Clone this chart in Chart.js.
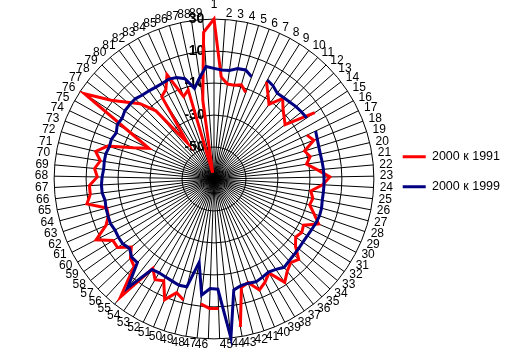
<!DOCTYPE html>
<html>
<head>
<meta charset="utf-8">
<title>2000 к 1991 / 2000 к 1999</title>
<script src="https://cdn.jsdelivr.net/npm/chart.js@4.4.0/dist/chart.umd.min.js"></script>
<style>
    html, body { margin: 0; padding: 0; background: #fff; }
    #wrap { width: 511px; height: 360px; }
</style>
</head>
<body>
<div id="wrap"><canvas id="radar" width="511" height="360"></canvas></div>
<script>
/* ----------------------------------------------------------
   DATA
   89 categories around the circle, two series read off the
   picture. null = no value (line is broken there).
---------------------------------------------------------- */

const CATEGORIES = Array.from({ length: 89 }, (_, i) => String(i + 1));

const SERIES_NAMES = ['2000 к 1991', '2000 к 1999'];

// 2000 к 1991 (red)
const VALUES_1991 = [
    30, -6, -10, -10, -8.7, -12.4, null, -0.8, -7, -12,
    -3.8, -8.4, -11.5, -14, 5.5, null, -5.7, -3, -10.7, -8.2,
    -11.4, -5, 2.5, -2, -9, -7, -8, -3.7, 1.2, -7,
    -5.7, -7.3, -4, 3, 1, 3.7, 8.3, -1.9, 2, 5,
    -1.8, 0, 24, null, 11, 11, 8.5, null, 8, 4.8,
    11.5, 1, 3, -2.3, 24, 4, 2, -3, 4, 4,
    13, 3.5, 0, -0.5, 11, 8, 8, 3, 5, 2,
    6, -0.3, -16, -25, -8.4, 27, 11, 2.5, -4, -14,
    -42, -9, -6.5, 1.5, -15, -12, -66, -20, 22
];

// 2000 к 1999 (navy)
const VALUES_1999 = [
    -0.8, -1.7, -1.5, 0.6, 1, -1.9, null, 0.3, -1, -3.3,
    -3, -2.5, -1.6, -1, -0.6, null, 0.3, -0.75, -1.4, -1.7,
    -1.5, -1.3, -1.2, -1.1, -1.1, -1, -0.3, -0.1, -0.5, -1.2,
    -1.7, -1.8, -1.5, -1.1, -0.5, 0.5, -1.5, -2.5, -1.5, -0.5,
    -1.4, -1.2, 0.5, 30, -1, -1.4, 3, -17, -0.5, 0,
    -1, -1.7, -2, -1.4, 17, 1, 1, -1.6, 0, 0,
    -0.3, 0.5, 0.2, 0, -0.6, 0.5, 0.5, 0, -0.7, -0.5,
    -0.5, -1.5, -1.2, -2.4, -0.6, -1.1, 0.2, 0.3, 0.3, -1,
    -1.5, -2, -2, -1.5, -2.3, -4.7, -12, -6, 0.5
];

// radial axis: -70 at the centre, 30 on the outer ring
const AXIS_MIN = -70;
const AXIS_MAX = 30;
const AXIS_STEP = 20;

/* ----------------------------------------------------------
   CHART
---------------------------------------------------------- */

Chart.defaults.font.family = 'Arial, "Liberation Sans", sans-serif';
Chart.defaults.color = '#000';

// tick labels sit just left of the vertical axis line, so pad
// them with trailing spaces (radial ticks are always centred)
function tickLabel(value) {
    if (value === AXIS_MIN) return '';
    const s = String(value);
    return s + ' '.repeat(s.length > 2 ? 10 : 9);
}

new Chart(document.getElementById('radar'), {
    type: 'radar',
    data: {
        labels: CATEGORIES,
        datasets: [
            {
                label: SERIES_NAMES[0],
                data: VALUES_1991,
                borderColor: '#ff0000',
                backgroundColor: '#ff0000',
                borderWidth: 3,
                order: 1
            },
            {
                label: SERIES_NAMES[1],
                data: VALUES_1999,
                borderColor: '#000080',
                backgroundColor: '#000080',
                borderWidth: 3,
                order: 0        // navy line drawn on top
            }
        ]
    },
    options: {
        responsive: false,
        animation: false,
        layout: {
            padding: { left: 32.5, right: 1, top: 2.5, bottom: 8.5 }
        },
        elements: {
            line: { tension: 0, fill: false },
            point: { radius: 0, hitRadius: 0, hoverRadius: 0 }
        },
        scales: {
            r: {
                min: AXIS_MIN,
                max: AXIS_MAX,
                ticks: {
                    stepSize: AXIS_STEP,
                    color: '#000',
                    showLabelBackdrop: false,
                    font: { size: 14, weight: 'bold' },
                    callback: tickLabel
                },
                grid: { color: '#000', lineWidth: 1, circular: true },
                angleLines: { color: '#000', lineWidth: 1 },
                pointLabels: {
                    color: '#000',
                    // chart.js adds the tick backdrop half-height (9px) on top;
                    // the label at the very top sits a bit higher
                    padding: (ctx) => (ctx.index === 0 ? 5.5 : -3),
                    // ~zero line height keeps each label vertically centred on its spoke
                    font: { size: 12, lineHeight: 0.01 }
                }
            }
        },
        plugins: {
            tooltip: { enabled: false },
            legend: {
                position: 'right',
                fullSize: false,
                labels: {
                    color: '#000',
                    padding: 7,
                    // lineHeight + padding = 30px between the two entries
                    font: { size: 12.5, lineHeight: 23 / 12.5 },
                    usePointStyle: true,
                    pointStyle: 'line',
                    pointStyleWidth: 23,
                    sort: (a, b) => a.datasetIndex - b.datasetIndex,
                    generateLabels: (chart) =>
                        Chart.defaults.plugins.legend.labels.generateLabels(chart)
                            .map((item) => Object.assign(item, { text: [item.text] }))
                }
            }
        }
    }
});
</script>
</body>
</html>
